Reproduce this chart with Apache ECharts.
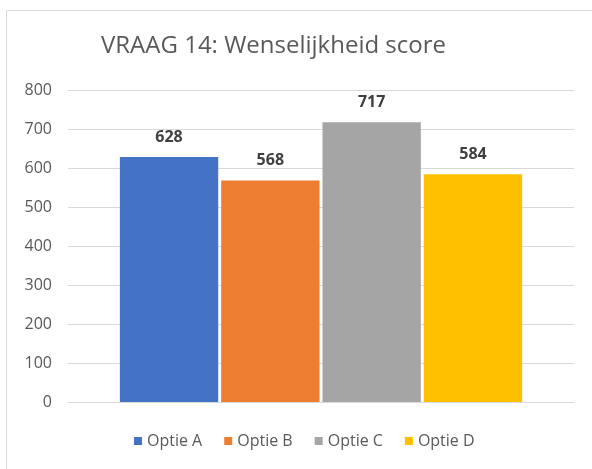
<!DOCTYPE html>
<html>
<head>
<meta charset="utf-8">
<script src="https://cdn.jsdelivr.net/npm/echarts@6/dist/echarts.min.js"></script>
<style>
  html, body { margin: 0; padding: 0; background: #fff; }
  #chart { width: 592px; height: 469px; }
</style>
</head>
<body>
<div id="chart"></div>
<script>
const seriesNames = ['Optie A', 'Optie B', 'Optie C', 'Optie D']
const scores = [628, 568, 717, 584]
const colors = ['#4472C4', '#ED7D31', '#A5A5A5', '#FFC000']
const categories = ['']

const chart = echarts.init(document.getElementById('chart'))

const series = seriesNames.map((name, i) => ({
  name: name,
  type: 'bar',
  data: [scores[i]],
  barGap: '3%',
  barCategoryGap: '20.5%',
  itemStyle: { color: colors[i] },
  label: {
    show: true,
    position: 'top',
    distance: 12,
    color: '#404040',
    fontWeight: 'bold',
    fontSize: 16,
    fontFamily: 'Open Sans'
  }
}))

chart.setOption({
  animation: false,
  textStyle: { fontFamily: 'Open Sans' },
  graphic: [{
    type: 'rect',
    shape: { x: 6.5, y: 10.5, width: 700, height: 600 },
    style: { fill: 'none', stroke: '#d9d9d9', lineWidth: 1 },
    silent: true
  }],
  title: {
    text: 'VRAAG 14: Wenselijkheid score',
    left: 96,
    top: 29,
    textStyle: { color: '#595959', fontSize: 24, fontWeight: 'normal', fontFamily: 'Open Sans' }
  },
  legend: {
    bottom: 15,
    left: 129,
    itemWidth: 8,
    itemHeight: 8,
    itemGap: 22,
    icon: 'rect',
    textStyle: { color: '#595959', fontSize: 16, fontFamily: 'Open Sans' },
    data: seriesNames
  },
  grid: { left: 68, right: 18, top: 90, bottom: 67 },
  xAxis: {
    type: 'category',
    data: categories,
    axisLine: { show: true, lineStyle: { color: '#d9d9d9' } },
    axisTick: { show: false },
    axisLabel: { show: false }
  },
  yAxis: {
    type: 'value',
    min: 0,
    max: 800,
    interval: 100,
    axisLine: { show: false },
    axisTick: { show: false },
    axisLabel: { color: '#595959', fontSize: 16, margin: 16, fontFamily: 'Open Sans' },
    splitLine: { lineStyle: { color: '#d9d9d9', width: 1 } }
  },
  series: series
})
</script>
</body>
</html>
